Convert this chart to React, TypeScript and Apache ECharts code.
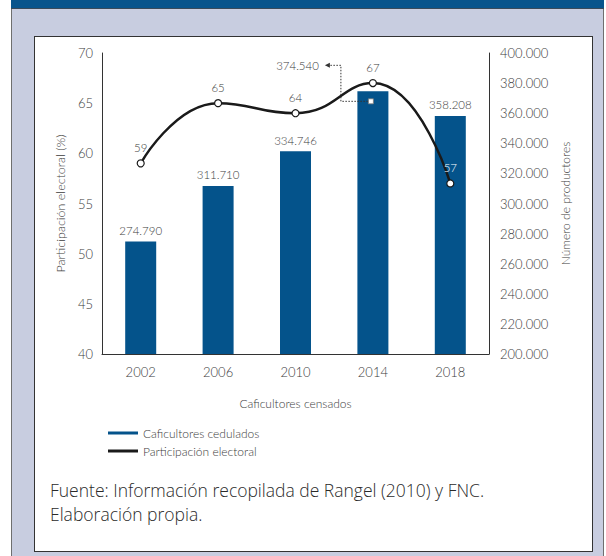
import React, { useEffect, useRef } from "react";
import * as echarts from "echarts";

const categories = ["2002", "2006", "2010", "2014", "2018"];
const cedulados = [274790, 311710, 334746, 374540, 358208];
const participacion = [59, 65, 64, 67, 57];
const leftTicks = { min: 40, max: 70, interval: 5 };
const rightTicks = { min: 200000, max: 400000, interval: 20000 };
const annotatedIndex = 3;
const whiteLabelIndex = 4;

const FONT = "Lato, 'Open Sans', sans-serif";
const W = 300;
const TXT = "#3c3c3c";
const BAR = "#04538b";
const LINE = "#1a1a1a";

const fmt = (v: number) =>
  String(Math.round(v)).replace(/\B(?=(\d{3})+(?!\d))/g, ".");

export default function App() {
  const ref = useRef<HTMLDivElement>(null);
  useEffect(() => {
    if (!ref.current) return;
    const chart = echarts.init(ref.current, undefined, { renderer: "svg" });
    const ts = (size: number, color = TXT) => ({
      fontFamily: FONT,
      fontWeight: W,
      fontSize: size,
      color,
    });
    const option: any = {
      animation: false,
      backgroundColor: "transparent",
      textStyle: { fontFamily: FONT, fontWeight: W },
      grid: { left: 102, right: 117, top: 53, bottom: 202, containLabel: false },
      legend: {
        orient: "vertical",
        left: 103,
        top: 422,
        itemWidth: 30,
        itemHeight: 3,
        itemGap: 6,
        textStyle: ts(12),
        data: [
          { name: "Caficultores cedulados", icon: "rect", itemStyle: { color: BAR } },
          {
            name: "Participación electoral",
            icon: "rect",
            itemStyle: { color: LINE, borderWidth: 0 },
          },
        ],
      },
      xAxis: {
        type: "category",
        data: categories,
        name: "Caficultores censados",
        nameLocation: "middle",
        nameGap: 43,
        nameTextStyle: ts(12),
        axisLine: { show: true, lineStyle: { color: "#333", width: 1 } },
        axisTick: { show: false },
        axisLabel: { ...ts(13), margin: 11 },
      },
      yAxis: [
        {
          type: "value",
          min: leftTicks.min,
          max: leftTicks.max,
          interval: leftTicks.interval,
          name: "Participación electoral (%)",
          nameLocation: "middle",
          nameGap: 35,
          nameTextStyle: ts(12.5),
          axisLine: { show: true, lineStyle: { color: "#333", width: 1 } },
          axisTick: { show: false },
          splitLine: { show: false },
          axisLabel: { ...ts(13), margin: 9 },
        },
        {
          type: "value",
          min: rightTicks.min,
          max: rightTicks.max,
          interval: rightTicks.interval,
          name: "Número de productores",
          nameLocation: "middle",
          nameGap: 68,
          nameRotate: 90,
          nameTextStyle: ts(12),
          axisLine: { show: true, lineStyle: { color: "#333", width: 1 } },
          axisTick: { show: false },
          splitLine: { show: false },
          axisLabel: {
            ...ts(13),
            margin: 11,
            formatter: (v: number) => fmt(v),
          },
        },
      ],
      series: [
        {
          name: "Caficultores cedulados",
          type: "bar",
          yAxisIndex: 1,
          barWidth: 31,
          itemStyle: { color: BAR },
          data: cedulados.map((v, i) => ({
            value: v,
            label: { show: i !== annotatedIndex },
          })),
          label: {
            show: true,
            position: "top",
            distance: 5,
            ...ts(11.5),
            formatter: (p: any) => fmt(p.value),
          },
          z: 1,
        },
        {
          name: "Participación electoral",
          type: "line",
          yAxisIndex: 0,
          smooth: 0.5,
          symbol: "circle",
          symbolSize: 7,
          lineStyle: { color: LINE, width: 2.5 },
          itemStyle: { color: "#fff", borderColor: LINE, borderWidth: 1.2 },
          data: participacion.map((v, i) => ({
            value: v,
            label: i === whiteLabelIndex ? { color: "#fff" } : {},
          })),
          label: {
            show: true,
            position: "top",
            distance: 6,
            ...ts(11.5),
          },
          z: 3,
        },
      ],
    };
    chart.setOption(option);

    const p = chart.convertToPixel({ seriesIndex: 0 }, [
      annotatedIndex,
      cedulados[annotatedIndex],
    ]) as number[];
    const sx = p[0] - 2;
    const sy = p[1] + 10;
    const vx = p[0] - 32;
    const ty = p[1] - 26;
    const tipX = p[0] - 48;
    const srcFont = "'Open Sans', Lato, sans-serif";
    chart.setOption({
      graphic: [
        {
          type: "polyline",
          shape: { points: [[sx, sy], [vx, sy], [vx, ty], [tipX + 4, ty]] },
          style: { stroke: "#333", lineWidth: 1, lineDash: [1.5, 1.5], fill: null },
          z: 10,
        },
        {
          type: "polygon",
          shape: { points: [[tipX, ty], [tipX + 5, ty - 2.5], [tipX + 5, ty + 2.5]] },
          style: { fill: "#333" },
          z: 10,
        },
        {
          type: "rect",
          shape: { x: sx - 2.5, y: sy - 2.5, width: 5, height: 5 },
          style: { fill: "#fff", stroke: "#777", lineWidth: 0.8 },
          z: 11,
        },
        {
          type: "text",
          style: {
            text: fmt(cedulados[annotatedIndex]),
            x: tipX - 6,
            y: ty,
            align: "right",
            verticalAlign: "middle",
            fontFamily: FONT,
            fontWeight: W,
            fontSize: 11.5,
            fill: TXT,
          },
          z: 10,
        },
        {
          type: "text",
          style: {
            text: "Fuente: Información recopilada de Rangel (2010) y FNC.",
            x: 50,
            y: 490,
            verticalAlign: "middle",
            fontFamily: srcFont,
            fontWeight: W,
            fontSize: 17.5,
            fill: "#2a2a2a",
          },
        },
        {
          type: "text",
          style: {
            text: "Elaboración propia.",
            x: 50,
            y: 514,
            verticalAlign: "middle",
            fontFamily: srcFont,
            fontWeight: W,
            fontSize: 17.5,
            fill: "#2a2a2a",
          },
        },
      ],
    });
    return () => chart.dispose();
  }, []);

  return (
    <div
      style={{
        position: "fixed",
        left: 0,
        top: 0,
        width: 606,
        height: 556,
        background: "#fff",
        overflow: "hidden",
      }}
    >
      <div
        style={{
          position: "absolute",
          left: 11,
          top: 0,
          width: 591,
          height: 556,
          background: "#c8cde0",
          borderLeft: "1px solid #6f6f6f",
          borderRight: "1px solid #6f6f6f",
        }}
      />
      <div
        style={{
          position: "absolute",
          left: 11,
          top: 0,
          width: 593,
          height: 8,
          background: "#08548c",
          borderBottom: "1px solid #3a4a5a",
        }}
      />
      <div
        style={{
          position: "absolute",
          left: 34,
          top: 36,
          width: 557,
          height: 514,
          background: "#fff",
          border: "1px solid #333",
        }}
      />
      <div
        ref={ref}
        style={{ position: "absolute", left: 0, top: 0, width: 606, height: 556 }}
      />
    </div>
  );
}
